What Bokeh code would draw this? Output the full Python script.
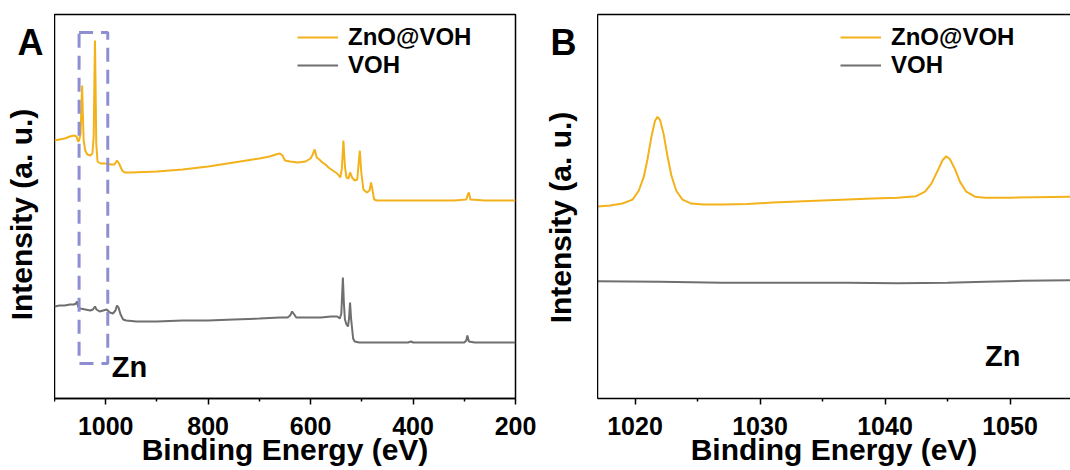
import math
from bokeh.plotting import figure
from bokeh.layouts import row
from bokeh.models import Range1d, FixedTicker, LinearAxis, Legend, LegendItem, Label
from bokeh.core.properties import value
from bokeh.embed import file_html
from bokeh.resources import INLINE

# ---------------- data ----------------
# Panel A: XPS survey (binding energy eV, intensity a.u.)
znovoh_a_x = [1100, 1090, 1080, 1070, 1062, 1057, 1054, 1052, 1049, 1047, 1046, 1045, 1043, 1040,
              1036, 1030, 1026, 1023.5, 1022, 1021, 1020, 1018.5, 1016, 1010, 1000, 990, 983, 978,
              974, 968, 963, 950, 900, 850, 800, 750, 700, 680, 668, 660, 655, 650, 640, 625, 610,
              600, 596, 592, 588, 583, 577, 571, 565, 557, 548, 542, 539, 536, 533, 530, 526, 523,
              519, 514, 509, 506, 504, 501, 497, 490, 485, 482, 479, 476, 470, 440, 400, 360, 320,
              296, 293, 291, 288, 260, 230, 200]
znovoh_a_y = [258, 259, 260, 262, 263, 262, 257, 258, 265, 300, 313, 290, 258, 248,
              244, 243, 245, 262, 320, 358, 322, 255, 237, 235, 235, 234, 234, 238,
              235, 228, 226, 226, 227, 229, 232, 236, 240, 242, 244, 245, 243, 238, 237, 236, 237,
              240, 244, 249, 241, 239, 236, 234, 231, 228, 225, 221, 230, 258, 232, 221, 220, 226,
              221, 218, 219, 236, 248, 226, 209, 206, 208, 216, 208, 199, 198, 198, 198, 198, 198,
              199, 204, 206, 199, 198, 198, 198]

voh_a_x = [1100, 1090, 1080, 1070, 1062, 1058, 1056, 1054, 1050, 1040, 1030, 1025, 1021, 1018,
           1012, 1005, 998, 992, 986, 981, 978, 975, 971, 966, 960, 940, 900, 850, 800, 750, 700,
           660, 645, 640, 636, 632, 628, 620, 600, 580, 560, 548, 543, 540, 537, 535, 533, 530,
           527, 525, 523, 521, 519, 517, 514, 505, 450, 410, 404, 400, 350, 300, 296, 294, 291,
           280, 250, 200]
voh_a_y = [92, 93, 93, 94, 94, 95, 97, 92, 90, 89, 88, 89, 92, 89,
           87, 88, 89, 86, 85, 88, 93, 91, 84, 79, 78, 77, 77, 78, 78, 79, 80,
           81, 81, 83, 87, 84, 81, 81, 81, 81, 82, 82, 80, 85, 121, 95, 79, 74,
           72, 80, 96, 80, 70, 60, 57, 56, 56, 56, 57, 56, 56, 56, 58, 63, 57,
           56, 56, 56]

# Panel B: Zn 2p region
znovoh_b_x = [1017.0, 1018.0, 1019.0, 1019.8, 1020.3, 1020.7, 1021.0, 1021.3, 1021.6, 1021.8,
              1022.0, 1022.3, 1022.6, 1022.9, 1023.3, 1023.8, 1024.5, 1025.5, 1027, 1029, 1031,
              1033, 1035, 1037, 1039, 1041, 1042.5, 1043.2, 1043.7, 1044.2, 1044.6, 1044.9,
              1045.2, 1045.6, 1046.0, 1046.5, 1047.2, 1048, 1050, 1052, 1055]
znovoh_b_y = [195, 196, 198, 202, 211, 225, 243, 265, 282, 286,
              283, 268, 246, 227, 211, 202, 198, 197, 197, 197.5, 199,
              200, 201, 202, 203, 204, 205.5, 210, 218, 231, 242, 246,
              243, 233, 220, 210, 205, 204, 204, 204.5, 205]

voh_b_x = [1017, 1022, 1027, 1032, 1037, 1041, 1045, 1048, 1051, 1055]
voh_b_y = [119, 118.5, 117.5, 117.5, 117.5, 117, 117.5, 118.5, 119.5, 120]

series_names = ["ZnO@VOH", "VOH"]
panel_letters = ["A", "B"]
y_title = "Intensity (a. u.)"
x_title = "Binding Energy (eV)"
a_ticks = [1000, 800, 600, 400, 200]
a_minor = [1100, 900, 700, 500, 300]
b_ticks = [1020, 1030, 1040, 1050]
b_minor = [1025, 1035, 1045, 1055]
zn_box_x = [1052, 996]
zn_box_y = [35, 366]

GOLD = "#F3B21B"
GRAY = "#6F6F6F"
FONT = "Liberation Sans"
H = 470


def strip(width, letter, letter_x, letter_y, label_x, label_y):
    s = figure(frame_width=width, frame_height=H, x_range=Range1d(0, width),
               y_range=Range1d(0, H), title=None,
               output_backend="svg", toolbar_location=None, x_axis_location=None,
               y_axis_location=None, min_border=0)
    s.grid.visible = False
    s.outline_line_color = None
    s.text(x=[letter_x], y=[H - letter_y], text=[letter], text_font=value(FONT),
           text_font_style="bold", text_font_size="36px", text_color="black",
           text_align="left", text_baseline="middle")
    s.text(x=[label_x], y=[H - label_y], text=[y_title], angle=math.pi / 2,
           text_font=value(FONT), text_font_style="bold", text_font_size="30px",
           text_color="black", text_align="center", text_baseline="middle")
    return s


def style_x(p, ticks, minor):
    p.grid.visible = False
    p.background_fill_color = "white"
    p.border_fill_color = "white"
    xa = p.xaxis[0]
    xa.ticker = FixedTicker(ticks=ticks, minor_ticks=minor)
    xa.axis_label = x_title
    xa.axis_label_text_font = FONT
    xa.axis_label_text_font_style = "bold"
    xa.axis_label_text_font_size = "30px"
    xa.axis_label_text_color = "black"
    xa.axis_label_standoff = -5
    xa.major_label_text_font = FONT
    xa.major_label_text_font_style = "bold"
    xa.major_label_text_font_size = "25px"
    xa.major_label_text_color = "black"
    xa.major_label_standoff = 12
    xa.major_tick_in = 0
    xa.major_tick_out = 6
    xa.minor_tick_in = 0
    xa.minor_tick_out = 3
    xa.axis_line_width = 1.5
    xa.major_tick_line_width = 1.5
    xa.minor_tick_line_width = 1.5


def make_legend(p, r1, r2, loc):
    leg = Legend(items=[LegendItem(label=series_names[0], renderers=[r1]),
                        LegendItem(label=series_names[1], renderers=[r2])],
                 location=loc, orientation="vertical")
    leg.border_line_color = None
    leg.background_fill_alpha = 0
    leg.padding = 0
    leg.margin = 0
    leg.spacing = -6
    leg.glyph_width = 41
    leg.glyph_height = 20
    leg.label_height = 20
    leg.label_standoff = 10
    leg.label_text_font = FONT
    leg.label_text_font_style = "bold"
    leg.label_text_font_size = "24px"
    leg.label_text_color = "black"
    p.add_layout(leg)


# ---------------- panel A ----------------
sA = strip(54, panel_letters[0], 17, 28, 21, 200)
pA = figure(width=486, height=H, x_range=Range1d(1100, 200), y_range=Range1d(0, 384),
            output_backend="svg", toolbar_location=None, y_axis_location=None,
            min_border_left=0, min_border_right=25, min_border_top=14, min_border_bottom=72)
style_x(pA, a_ticks, a_minor)
pA.outline_line_color = "black"
pA.outline_line_width = 1.5
rA1 = pA.line(znovoh_a_x, znovoh_a_y, line_color=GOLD, line_width=2)
rA2 = pA.line(voh_a_x, voh_a_y, line_color=GRAY, line_width=2)
pA.quad(left=zn_box_x[0], right=zn_box_x[1], bottom=zn_box_y[0], top=zn_box_y[1],
        fill_color=None, line_color="#8E8ED2", line_width=3, line_dash="14 8")
make_legend(pA, rA1, rA2, (243, 319))
pA.add_layout(Label(x=988, y=32, text="Zn", text_font=FONT, text_font_style="bold",
                    text_font_size="29px", text_color="black", text_baseline="middle"))

# ---------------- panel B ----------------
sB = strip(57, panel_letters[1], 10, 28, 20, 203)
pB = figure(width=473, height=H, x_range=Range1d(1017, 1054.84), y_range=Range1d(0, 390),
            output_backend="svg", toolbar_location=None,
            min_border_left=0, min_border_right=0, min_border_top=13, min_border_bottom=67)
style_x(pB, b_ticks, b_minor)
pB.outline_line_color = None
ya = pB.yaxis[0]
ya.ticker = FixedTicker(ticks=[], minor_ticks=[])
ya.major_tick_out = 0
ya.major_tick_in = 0
ya.major_label_standoff = 0
ya.axis_line_width = 1.5
top_axis = LinearAxis(ticker=FixedTicker(ticks=[], minor_ticks=[]), major_tick_out=0,
                      major_tick_in=0, major_label_standoff=0, axis_line_width=1.5)
pB.add_layout(top_axis, "above")
rB1 = pB.line(znovoh_b_x, znovoh_b_y, line_color=GOLD, line_width=2)
rB2 = pB.line(voh_b_x, voh_b_y, line_color=GRAY, line_width=2)
make_legend(pB, rB1, rB2, (243, 319))
pB.add_layout(Label(x=1048.0, y=43, text="Zn", text_font=FONT, text_font_style="bold",
                    text_font_size="29px", text_color="black", text_baseline="middle"))

layout = row(sA, pA, sB, pB)
open("out.html", "w").write(file_html(layout, INLINE))
